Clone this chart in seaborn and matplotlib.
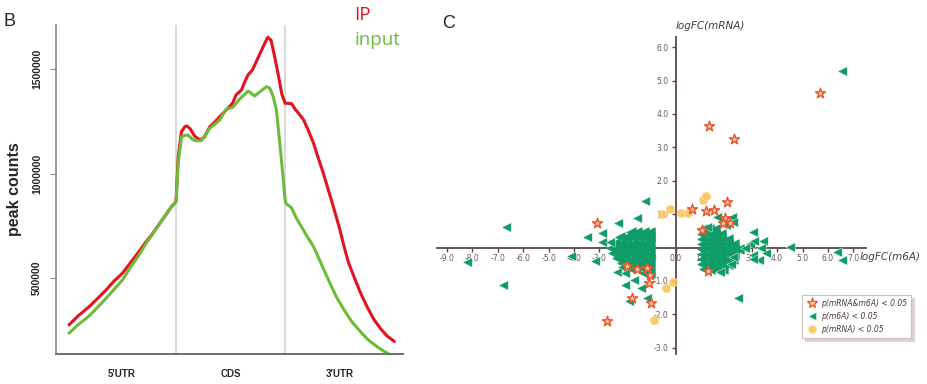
import pandas as pd
import matplotlib
matplotlib.use("Agg")
import matplotlib.pyplot as plt
import seaborn as sns
from matplotlib.lines import Line2D

# ---- panel B: peak counts along transcript ----
ip_pos = [0.02, 0.10, 0.205, 0.28, 0.36, 0.43, 0.51, 0.58, 0.66, 0.72, 0.787, 0.85,
          0.90, 0.95, 1.0,
          1.02, 1.05, 1.08, 1.10, 1.13, 1.17, 1.22, 1.26, 1.31, 1.36, 1.40,
          1.45, 1.49, 1.52, 1.55, 1.60, 1.63, 1.66, 1.70, 1.73, 1.77, 1.80,
          1.84, 1.87, 1.90, 1.94, 1.97, 2.0,
          2.03, 2.06, 2.09, 2.13, 2.17, 2.21, 2.26, 2.30, 2.35, 2.40, 2.45, 2.50,
          2.54, 2.58, 2.63, 2.69, 2.75, 2.81, 2.87, 2.93, 3.0]
ip_counts = [276500, 318000, 364000, 402000, 444000, 485000, 524000, 572000, 627000,
             670000, 715000, 762000, 798000, 836000, 866500,
             1080000, 1201000, 1225000, 1228700, 1215000, 1180000, 1161700, 1175000,
             1225000, 1250000, 1273000, 1300000, 1321000, 1340000, 1377000, 1401000,
             1440000, 1473000, 1497000, 1530000, 1576000, 1610000, 1653000, 1640000,
             1570000, 1465000, 1380000, 1337000,
             1337000, 1335000, 1310000, 1285000, 1257000, 1210000, 1146000, 1080000,
             1002000, 915000, 827000, 735000, 651000, 575000, 508000, 430000, 364000,
             305000, 261000, 225000, 197000]

input_pos = [0.02, 0.10, 0.205, 0.28, 0.36, 0.43, 0.51, 0.58, 0.66, 0.72, 0.787, 0.85,
             0.90, 0.95, 1.0,
             1.02, 1.05, 1.08, 1.11, 1.15, 1.18, 1.23, 1.27, 1.31, 1.35, 1.40,
             1.46, 1.52, 1.58, 1.62, 1.66, 1.69, 1.72, 1.77, 1.83, 1.86, 1.89,
             1.92, 1.96, 2.0,
             2.01, 2.04, 2.06, 2.10, 2.13, 2.19, 2.26, 2.33, 2.41, 2.47, 2.54, 2.61,
             2.69, 2.76, 2.84, 2.90, 2.95, 3.0]
input_counts = [236800, 276000, 319600, 360000, 404000, 445000, 492000, 550000, 610000,
                662000, 712000, 760000, 800000, 838000, 866500,
                1050000, 1177000, 1183000, 1185000, 1165000, 1158000, 1158000, 1185000,
                1218000, 1235000, 1257000, 1309000, 1318000, 1356000, 1375000, 1396000,
                1385000, 1372000, 1393000, 1417000, 1409000, 1370000, 1305000, 1098000,
                874000,
                855000, 845000, 835000, 790000, 763000, 710000, 651000, 570000, 476000,
                410000, 348000, 292000, 244000, 205000, 173000, 152000, 137000, 120000]

region_labels = ["5'UTR", "CDS", "3'UTR"]
region_centers = [0.5, 1.5, 2.5]
region_bounds = [1, 2]
count_ticks = [500000, 1000000, 1500000]

# ---- panel C: logFC(m6A) vs logFC(mRNA) ----
both_x = [1.33, 2.30, 5.69, -3.11, -2.71, -1.73, -0.98, -1.05, -1.0, -1.14, -1.53,
          -1.92, 0.63, 1.18, 1.51, 2.04, 1.94, 1.86, 2.14, 1.03, 1.28]
both_y = [3.65, 3.24, 4.64, 0.72, -2.20, -1.50, -1.65, -1.05, -0.82, -0.62, -0.65,
          -0.55, 1.15, 1.10, 1.12, 1.36, 0.87, 0.74, 0.73, 0.52, -0.69]

m6a_x = [-6.68, -8.23, -6.81, -3.50, -4.13, -3.17, -2.88, -2.90, -2.58, -2.28, -1.53,
         -1.22, -2.32, -2.10, -1.99, -1.98, -1.64, -1.36, -1.82, -1.14, 2.47, 4.50,
         6.34, 6.56, 6.56, 3.06, 2.93, 3.08, 3.45, 2.73, 3.35, 3.56, 3.06, 3.30, 3.06,
         1.62, 2.21, 2.25, 2.0, 1.22, 1.75, 2.2, 2.27]
m6a_y = [0.62, -0.44, -1.13, 0.32, -0.25, -0.40, 0.42, 0.16, 0.16, 0.72, 0.89,
         1.38, -0.72, -0.59, -0.75, -1.11, -0.97, -1.21, -1.59, -1.51, -1.52, 0.01,
         -0.13, -0.36, 5.29, 0.47, 0.10, 0.19, 0.19, -0.02, -0.02, -0.17, -0.22, -0.37,
         -0.35, 0.92, 0.92, 0.77, 0.67, 0.62, -0.72, -0.5, -0.27]

# dense clusters of m6A-only points, read row by row
left_rows_y = [0.45, 0.30, 0.15, 0.0, -0.15, -0.30, -0.45, -0.60, -0.75]
left_rows_x = [[-1.75, -1.5, -1.25, -1.0],
               [-2.2, -1.95, -1.7, -1.45, -1.2, -1.0],
               [-2.4, -2.15, -1.9, -1.65, -1.4, -1.15, -1.0],
               [-2.55, -2.3, -2.05, -1.8, -1.55, -1.3, -1.05],
               [-2.45, -2.2, -1.95, -1.7, -1.45, -1.2, -1.0],
               [-2.3, -2.05, -1.8, -1.55, -1.3, -1.05],
               [-2.1, -1.85, -1.6, -1.35, -1.1, -1.0],
               [-1.8, -1.55, -1.3, -1.05],
               [-1.25, -1.0]]
right_rows_y = [0.55, 0.40, 0.25, 0.10, -0.05, -0.20, -0.35, -0.50, -0.65]
right_rows_x = [[1.05, 1.3, 1.55],
                [1.05, 1.3, 1.55, 1.8],
                [1.05, 1.3, 1.55, 1.8, 2.05],
                [1.05, 1.3, 1.55, 1.8, 2.05, 2.3],
                [1.05, 1.3, 1.55, 1.8, 2.05, 2.3, 2.5],
                [1.05, 1.3, 1.55, 1.8, 2.05, 2.3],
                [1.05, 1.3, 1.55, 1.8, 2.05, 2.25],
                [1.05, 1.3, 1.55, 1.8, 2.05],
                [1.1, 1.35, 1.6, 1.85]]

mrna_x = [-0.55, -0.22, 0.20, 0.50, 1.09, 1.20, -0.11, -0.38, -0.85]
mrna_y = [1.00, 1.15, 1.02, 1.02, 1.42, 1.54, -1.02, -1.22, -2.17]

x_ticks = [-9, -8, -7, -6, -5, -4, -3, -2, -1, 0, 1, 2, 3, 4, 5, 6, 7]
y_ticks = [-3, -2, -1, 1, 2, 3, 4, 5, 6]

sns.set_style("white")
plt.rcParams['font.family'] = ['DejaVu Sans']

fig = plt.figure(figsize=(9.28, 3.84), dpi=100)
axB = fig.add_axes([0.0603, 0.0781, 0.374, 0.8568])
axC = fig.add_axes([0.468, 0.0771, 0.468, 0.8263])

# ---- B ----
df_b = pd.concat([
    pd.DataFrame({'pos': ip_pos, 'count': ip_counts, 'sample': 'IP'}),
    pd.DataFrame({'pos': input_pos, 'count': input_counts, 'sample': 'input'}),
])
for b in region_bounds:
    axB.axvline(b, color='#d0d0d0', lw=1.1, zorder=0)
sns.lineplot(data=df_b, x='pos', y='count', hue='sample',
             palette={'IP': '#e3141f', 'input': '#6dbb3a'},
             lw=2.2, legend=False, errorbar=None, ax=axB)
axB.set_xlim(-0.1, 3.08)
axB.set_ylim(137000, 1712000)
for s in ['top', 'right']:
    axB.spines[s].set_visible(False)
axB.spines['left'].set_color('#8a8a8a')
axB.spines['bottom'].set_color('#707070')
axB.spines['left'].set_linewidth(1.2)
axB.spines['bottom'].set_linewidth(1.4)
axB.set_xticks(region_centers)
axB.set_xticklabels(region_labels, fontsize=7, fontweight='bold', family='Liberation Sans')
axB.tick_params(axis='x', length=0, pad=11)
axB.set_yticks(count_ticks)
axB.set_yticklabels([str(t) for t in count_ticks], rotation=90, va='center',
                    fontsize=7.5, fontweight='bold', family='Liberation Sans')
axB.tick_params(axis='y', left=True, length=4, color='#8a8a8a', pad=6)
axB.set_xlabel('')
axB.set_ylabel('peak counts', fontsize=11.5, fontweight='bold', family='Liberation Sans')
axB.yaxis.set_label_coords(-0.098, 0.5)

fig.text(0.0035, 0.945, 'B', fontsize=13, family='Liberation Sans', va='center')
fig.text(0.382, 0.96, 'IP', fontsize=13.5, color='#e3141f', family='Open Sans', va='center')
fig.text(0.382, 0.895, 'input', fontsize=13.5, color='#6dbb3a', family='Open Sans', va='center')

# ---- C ----
spine_col = '#5b4646'
green = '#109c68'
cl_x = [x for row in left_rows_x for x in row] + [x for row in right_rows_x for x in row]
cl_y = ([y for y, row in zip(left_rows_y, left_rows_x) for _ in row]
        + [y for y, row in zip(right_rows_y, right_rows_x) for _ in row])

# cluster drawn solid, outliers keep the light rim
sns.scatterplot(x=cl_x, y=cl_y, marker='<', s=46, color=green, edgecolor=green,
                linewidth=0.6, ax=axC, zorder=3)
sns.scatterplot(x=m6a_x, y=m6a_y, marker='<', s=46, color=green, edgecolor='#e6f5ee',
                linewidth=0.35, ax=axC, zorder=3)
sns.scatterplot(x=mrna_x, y=mrna_y, marker='o', s=40, color='#f8c75c',
                edgecolor='#fde7b5', linewidth=0.5, alpha=0.9, ax=axC, zorder=4)
sns.scatterplot(x=both_x, y=both_y, marker='*', s=58, color='#f9c3a6',
                edgecolor='#e8542b', linewidth=1.0, ax=axC, zorder=5)

axC.set_xlim(-9.5, 7.6)
axC.set_ylim(-3.2, 6.3)
axC.spines['left'].set_position(('data', 0))
axC.spines['bottom'].set_position(('data', 0))
axC.spines['top'].set_visible(False)
axC.spines['right'].set_visible(False)
axC.spines['left'].set_bounds(-3.2, 6.3)
axC.spines['bottom'].set_bounds(-9.4, 7.5)
for s in ['left', 'bottom']:
    axC.spines[s].set_color(spine_col)
    axC.spines[s].set_linewidth(1.3)
    axC.spines[s].set_zorder(2)
axC.set_xticks(x_ticks)
axC.set_xticklabels([f'{t:.1f}' for t in x_ticks])
axC.set_yticks(y_ticks)
axC.set_yticklabels([f'{t:.1f}' for t in y_ticks])
axC.tick_params(direction='out', length=3, width=1, color=spine_col,
                labelsize=5.5, labelcolor='#6a5656', pad=2, left=True, bottom=True)
axC.text(7.26, -0.28, 'logFC(m6A)', style='italic', fontsize=7.5, color='#4a3a3a',
         va='center', ha='left')
axC.text(1.36, 6.64, 'logFC(mRNA)', style='italic', fontsize=7.5, color='#4a3a3a',
         va='center', ha='center')

handles = [
    Line2D([], [], ls='', marker='*', markersize=8, mfc='#f9c3a6', mec='#e8542b', mew=0.9),
    Line2D([], [], ls='', marker='<', markersize=6, mfc=green, mec='#e6f5ee', mew=0.4),
    Line2D([], [], ls='', marker='o', markersize=6, mfc='#f8c75c', mec='#fde7b5', alpha=0.9),
]
labels = ['p(mRNA&m6A) < 0.05', 'p(m6A) < 0.05', 'p(mRNA) < 0.05']
leg = axC.legend(handles, labels, loc='upper left', bbox_to_anchor=(0.838, 0.2),
                 prop={'size': 5.5, 'style': 'italic'}, fancybox=False, framealpha=1,
                 edgecolor='#cdbfbf', shadow={'color': '#ddd3d3', 'alpha': 1},
                 labelspacing=0.5, handletextpad=0.5, borderpad=0.55, handlelength=1.4)
for t in leg.get_texts():
    t.set_color('#4a3a3a')
leg.get_frame().set_linewidth(0.8)

fig.text(0.4765, 0.94, 'C', fontsize=13, family='Liberation Sans', va='center')

fig.savefig('out.png', dpi=100)
